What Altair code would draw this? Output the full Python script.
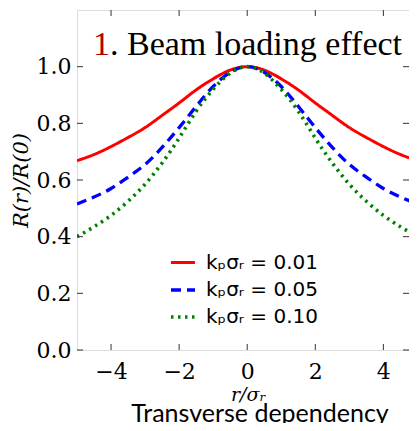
import altair as alt
import pandas as pd

# ---- data ----
x_vals = [-5.0, -4.5, -4.0, -3.5, -3.0, -2.5, -2.0, -1.5, -1.0, -0.5, 0.0,
          0.5, 1.0, 1.5, 2.0, 2.5, 3.0, 3.5, 4.0, 4.5, 5.0]
red_vals = [0.668, 0.690, 0.718, 0.750, 0.785, 0.828, 0.872, 0.918, 0.957, 0.988, 1.000,
            0.988, 0.957, 0.918, 0.872, 0.828, 0.785, 0.750, 0.718, 0.690, 0.668]
blue_vals = [0.515, 0.540, 0.570, 0.610, 0.655, 0.715, 0.785, 0.860, 0.930, 0.980, 1.000,
             0.980, 0.930, 0.860, 0.785, 0.715, 0.655, 0.610, 0.570, 0.540, 0.515]
green_vals = [0.400, 0.435, 0.475, 0.525, 0.585, 0.660, 0.748, 0.843, 0.920, 0.977, 1.000,
              0.977, 0.920, 0.843, 0.748, 0.660, 0.585, 0.525, 0.475, 0.435, 0.400]
series_names = ["kₚσᵣ = 0.01", "kₚσᵣ = 0.05", "kₚσᵣ = 0.10"]
series_colors = ["#ff0000", "#0000ff", "#008000"]
series_dash = [[1, 0], [10, 6], [2.5, 4.5]]
series_width = [3, 3.6, 2.6]

x_ticks = [-4, -2, 0, 2, 4]
y_ticks = [0.0, 0.2, 0.4, 0.6, 0.8, 1.0]

# the visible part of the frame: the page is cut just after x = 4.75
x_domain = [-5, 4.753]
W, H = 332, 340

rows = []
for name, vals in zip(series_names, [red_vals, blue_vals, green_vals]):
    for xv, yv in zip(x_vals, vals):
        rows.append({"x": xv, "y": yv, "series": name})
df = pd.DataFrame(rows)

xscale = alt.Scale(domain=x_domain, nice=False)
yscale = alt.Scale(domain=[0, 1.2], nice=False)

legend_opts = dict(title=None, orient="none", legendX=92, legendY=239,
                   symbolType="stroke", symbolSize=576, symbolStrokeWidth=3,
                   labelFont="DejaVu Sans", labelFontSize=20, labelOffset=9,
                   rowPadding=3, padding=0, labelColor="black")

lines = alt.Chart(df).mark_line(interpolate="natural", clip=True).encode(
    x=alt.X("x:Q", scale=xscale,
            axis=alt.Axis(values=x_ticks, title="r/σᵣ", labelFont="DejaVu Serif",
                          labelFontSize=22, labelPadding=11, ticks=False, tickSize=0,
                          domain=False, grid=False, titleFont="DejaVu Serif",
                          titleFontStyle="italic", titleFontWeight="normal",
                          titleFontSize=19, titlePadding=3, titleX=171,
                          labelColor="black", titleColor="black")),
    y=alt.Y("y:Q", scale=yscale,
            axis=alt.Axis(values=y_ticks, format=".1f", title="R(r)/R(0)",
                          labelFont="DejaVu Serif", labelFontSize=22, labelPadding=6,
                          ticks=False, tickSize=0, domain=False, grid=False,
                          titleFont="DejaVu Serif", titleFontStyle="italic",
                          titleFontWeight="normal", titleFontSize=21, titlePadding=5,
                          labelColor="black", titleColor="black")),
    color=alt.Color("series:N", scale=alt.Scale(domain=series_names, range=series_colors),
                    legend=alt.Legend(**legend_opts)),
    strokeDash=alt.StrokeDash("series:N",
                              scale=alt.Scale(domain=series_names, range=series_dash),
                              legend=alt.Legend(**legend_opts)),
    strokeWidth=alt.StrokeWidth("series:N",
                                scale=alt.Scale(domain=series_names, range=series_width),
                                legend=None),
)

xt = pd.DataFrame({"t": x_ticks})
yt = pd.DataFrame({"t": y_ticks})
tick_style = dict(color="#333333", strokeWidth=1)
bottom_ticks = alt.Chart(xt).mark_rule(**tick_style).encode(
    x=alt.X("t:Q", scale=xscale), y=alt.value(H), y2=alt.value(H - 6))
top_ticks = alt.Chart(xt).mark_rule(**tick_style).encode(
    x=alt.X("t:Q", scale=xscale), y=alt.value(0), y2=alt.value(6))
left_ticks = alt.Chart(yt).mark_rule(**tick_style).encode(
    y=alt.Y("t:Q", scale=yscale), x=alt.value(0), x2=alt.value(6))
right_ticks = alt.Chart(yt).mark_rule(**tick_style).encode(
    y=alt.Y("t:Q", scale=yscale), x=alt.value(W), x2=alt.value(W - 6))

title_num = alt.Chart(pd.DataFrame({"s": ["1"]})).mark_text(
    font="Liberation Serif", fontSize=34, color="#b40000", align="left",
    baseline="alphabetic").encode(text="s:N", x=alt.value(16), y=alt.value(45))
title_rest = alt.Chart(pd.DataFrame({"s": [". Beam loading effect"]})).mark_text(
    font="Liberation Serif", fontSize=34, color="black", align="left",
    baseline="alphabetic").encode(text="s:N", x=alt.value(33), y=alt.value(45))
caption = alt.Chart(pd.DataFrame({"s": ["Transverse dependency"]})).mark_text(
    font="Lato", fontSize=25, color="black", align="center",
    baseline="alphabetic").encode(text="s:N", x=alt.value(183), y=alt.value(412))

chart = alt.layer(
    lines, bottom_ticks, top_ticks, left_ticks, right_ticks, title_num, title_rest, caption
).properties(
    width=W, height=H,
    autosize=alt.AutoSizeParams(type="none"),
    padding={"left": 69, "top": 2, "right": 0, "bottom": 73},
).configure_view(stroke="#222222", strokeWidth=1.5).configure(background="white")

chart.save("out.html", embed_options={"renderer": "svg", "actions": False})
